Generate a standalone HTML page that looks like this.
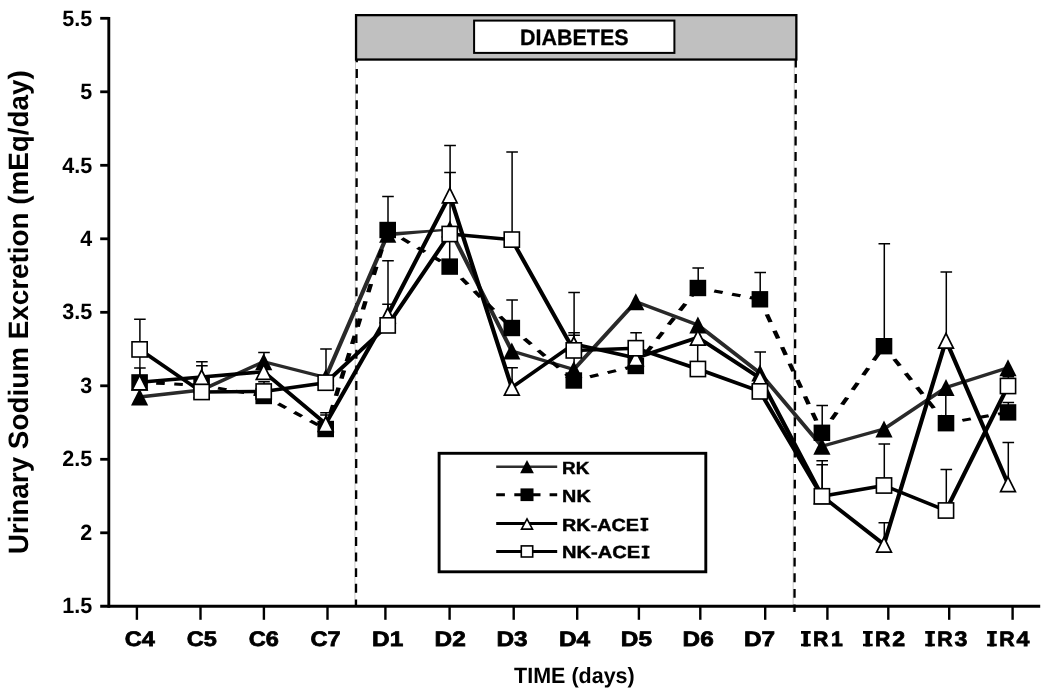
<!DOCTYPE html>
<html><head><meta charset="utf-8"><title>Urinary Sodium Excretion</title>
<style>html,body{margin:0;padding:0;background:#fff}svg{display:block;will-change:transform}text{font-family:"Liberation Sans",sans-serif;font-weight:bold;fill:#000;text-rendering:geometricPrecision}</style>
</head><body>
<svg width="1050" height="694" viewBox="0 0 1050 694">
<rect width="1050" height="694" fill="#fff"/>
<path d="M355.5 60L354.9 605" stroke="#c4c4c4" stroke-width="0.9" fill="none"/>
<path d="M794.3 60L793.1 612" stroke="#c4c4c4" stroke-width="0.9" fill="none"/>
<path d="M356.8 53.4L356.0 606" stroke="#000" stroke-width="2.3" stroke-dasharray="8.9 6.7" fill="none"/>
<path d="M795.8 58.5L794.5 612" stroke="#000" stroke-width="2.3" stroke-dasharray="8.9 6.7" fill="none"/>
<rect x="356.05" y="15.15" width="440.3" height="44.4" fill="#c0c0c0" stroke="#000" stroke-width="2.3"/>
<rect x="474.1" y="20.6" width="200.3" height="32.3" fill="#fff" stroke="#000" stroke-width="2"/>
<text x="574.3" y="44.7" font-size="22.2" text-anchor="middle" textLength="108.6" lengthAdjust="spacingAndGlyphs" stroke="#000" stroke-width="0.3">DIABETES</text>
<path d="M108.8 16.9V607.7" stroke="#000" stroke-width="2.9" fill="none"/>
<path d="M100.2 606.3H1040.2" stroke="#000" stroke-width="2.9" fill="none"/>
<path d="M100.2 18.3H108.7" stroke="#000" stroke-width="2.8" fill="none"/>
<path d="M100.2 91.8H108.7" stroke="#000" stroke-width="2.8" fill="none"/>
<path d="M100.2 165.3H108.7" stroke="#000" stroke-width="2.8" fill="none"/>
<path d="M100.2 238.8H108.7" stroke="#000" stroke-width="2.8" fill="none"/>
<path d="M100.2 312.3H108.7" stroke="#000" stroke-width="2.8" fill="none"/>
<path d="M100.2 385.8H108.7" stroke="#000" stroke-width="2.8" fill="none"/>
<path d="M100.2 459.3H108.7" stroke="#000" stroke-width="2.8" fill="none"/>
<path d="M100.2 532.8H108.7" stroke="#000" stroke-width="2.8" fill="none"/>
<path d="M136.9 606V619.8" stroke="#000" stroke-width="2.4" fill="none"/>
<path d="M200.5 606V619.8" stroke="#000" stroke-width="2.4" fill="none"/>
<path d="M263.9 606V619.8" stroke="#000" stroke-width="2.4" fill="none"/>
<path d="M327.5 606V619.8" stroke="#000" stroke-width="2.4" fill="none"/>
<path d="M385.4 606V619.8" stroke="#000" stroke-width="2.4" fill="none"/>
<path d="M449.6 606V619.8" stroke="#000" stroke-width="2.4" fill="none"/>
<path d="M513.7 606V619.8" stroke="#000" stroke-width="2.4" fill="none"/>
<path d="M577.2 606V619.8" stroke="#000" stroke-width="2.4" fill="none"/>
<path d="M638.9 606V619.8" stroke="#000" stroke-width="2.4" fill="none"/>
<path d="M700.3 606V619.8" stroke="#000" stroke-width="2.4" fill="none"/>
<path d="M765.2 606V619.8" stroke="#000" stroke-width="2.4" fill="none"/>
<path d="M827.4 606V619.8" stroke="#000" stroke-width="2.4" fill="none"/>
<path d="M888.3 606V619.8" stroke="#000" stroke-width="2.4" fill="none"/>
<path d="M949.2 606V619.8" stroke="#000" stroke-width="2.4" fill="none"/>
<path d="M1012.6 606V619.8" stroke="#000" stroke-width="2.4" fill="none"/>
<text x="92.3" y="25.8" font-size="22.2" text-anchor="end" textLength="30.0" lengthAdjust="spacingAndGlyphs">5.5</text>
<text x="92.3" y="99.2" font-size="22.2" text-anchor="end" textLength="11.95" lengthAdjust="spacingAndGlyphs">5</text>
<text x="92.3" y="172.6" font-size="22.2" text-anchor="end" textLength="30.0" lengthAdjust="spacingAndGlyphs">4.5</text>
<text x="92.3" y="246.0" font-size="22.2" text-anchor="end" textLength="11.95" lengthAdjust="spacingAndGlyphs">4</text>
<text x="92.3" y="319.4" font-size="22.2" text-anchor="end" textLength="30.0" lengthAdjust="spacingAndGlyphs">3.5</text>
<text x="92.3" y="392.8" font-size="22.2" text-anchor="end" textLength="11.95" lengthAdjust="spacingAndGlyphs">3</text>
<text x="92.3" y="466.2" font-size="22.2" text-anchor="end" textLength="30.0" lengthAdjust="spacingAndGlyphs">2.5</text>
<text x="92.3" y="539.6" font-size="22.2" text-anchor="end" textLength="11.95" lengthAdjust="spacingAndGlyphs">2</text>
<text x="92.3" y="613.0" font-size="22.2" text-anchor="end" textLength="30.0" lengthAdjust="spacingAndGlyphs">1.5</text>
<text x="139.8" y="646.3" text-anchor="middle" textLength="30.1" font-size="21.0" lengthAdjust="spacingAndGlyphs" stroke="#000" stroke-width="0.75">C4</text>
<text x="201.9" y="646.3" text-anchor="middle" textLength="30.1" font-size="21.0" lengthAdjust="spacingAndGlyphs" stroke="#000" stroke-width="0.75">C5</text>
<text x="263.7" y="646.3" text-anchor="middle" textLength="30.1" font-size="21.0" lengthAdjust="spacingAndGlyphs" stroke="#000" stroke-width="0.75">C6</text>
<text x="325.6" y="646.3" text-anchor="middle" textLength="30.1" font-size="21.0" lengthAdjust="spacingAndGlyphs" stroke="#000" stroke-width="0.75">C7</text>
<text x="387.7" y="646.3" text-anchor="middle" textLength="31.2" font-size="21.0" lengthAdjust="spacingAndGlyphs" stroke="#000" stroke-width="0.75">D1</text>
<text x="450.2" y="646.3" text-anchor="middle" textLength="31.2" font-size="21.0" lengthAdjust="spacingAndGlyphs" stroke="#000" stroke-width="0.75">D2</text>
<text x="512.0" y="646.3" text-anchor="middle" textLength="31.2" font-size="21.0" lengthAdjust="spacingAndGlyphs" stroke="#000" stroke-width="0.75">D3</text>
<text x="574.5" y="646.3" text-anchor="middle" textLength="31.2" font-size="21.0" lengthAdjust="spacingAndGlyphs" stroke="#000" stroke-width="0.75">D4</text>
<text x="636.4" y="646.3" text-anchor="middle" textLength="31.2" font-size="21.0" lengthAdjust="spacingAndGlyphs" stroke="#000" stroke-width="0.75">D5</text>
<text x="698.2" y="646.3" text-anchor="middle" textLength="31.2" font-size="21.0" lengthAdjust="spacingAndGlyphs" stroke="#000" stroke-width="0.75">D6</text>
<text x="759.6" y="646.3" text-anchor="middle" textLength="31.2" font-size="21.0" lengthAdjust="spacingAndGlyphs" stroke="#000" stroke-width="0.75">D7</text>
<text x="805.85" y="646.3" font-size="21.0" text-anchor="middle" textLength="7.0" lengthAdjust="spacingAndGlyphs" stroke="#000" stroke-width="0.75">I</text>
<path d="M801.00 631.10h9.7v2.6h-9.7zM801.00 643.70h9.7v2.6h-9.7z" fill="#000"/>
<text x="813.1" y="646.3" textLength="15.4" font-size="21.0" lengthAdjust="spacingAndGlyphs" stroke="#000" stroke-width="0.75">R</text>
<text x="836.8" y="646.3" text-anchor="middle" textLength="11.8" font-size="21.0" lengthAdjust="spacingAndGlyphs" stroke="#000" stroke-width="0.75">1</text>
<text x="867.85" y="646.3" font-size="21.0" text-anchor="middle" textLength="7.0" lengthAdjust="spacingAndGlyphs" stroke="#000" stroke-width="0.75">I</text>
<path d="M863.00 631.10h9.7v2.6h-9.7zM863.00 643.70h9.7v2.6h-9.7z" fill="#000"/>
<text x="875.1" y="646.3" textLength="15.4" font-size="21.0" lengthAdjust="spacingAndGlyphs" stroke="#000" stroke-width="0.75">R</text>
<text x="898.8" y="646.3" text-anchor="middle" textLength="12.9" font-size="21.0" lengthAdjust="spacingAndGlyphs" stroke="#000" stroke-width="0.75">2</text>
<text x="930.05" y="646.3" font-size="21.0" text-anchor="middle" textLength="7.0" lengthAdjust="spacingAndGlyphs" stroke="#000" stroke-width="0.75">I</text>
<path d="M925.20 631.10h9.7v2.6h-9.7zM925.20 643.70h9.7v2.6h-9.7z" fill="#000"/>
<text x="937.3" y="646.3" textLength="15.4" font-size="21.0" lengthAdjust="spacingAndGlyphs" stroke="#000" stroke-width="0.75">R</text>
<text x="961.0" y="646.3" text-anchor="middle" textLength="12.9" font-size="21.0" lengthAdjust="spacingAndGlyphs" stroke="#000" stroke-width="0.75">3</text>
<text x="991.95" y="646.3" font-size="21.0" text-anchor="middle" textLength="7.0" lengthAdjust="spacingAndGlyphs" stroke="#000" stroke-width="0.75">I</text>
<path d="M987.10 631.10h9.7v2.6h-9.7zM987.10 643.70h9.7v2.6h-9.7z" fill="#000"/>
<text x="999.2" y="646.3" textLength="15.4" font-size="21.0" lengthAdjust="spacingAndGlyphs" stroke="#000" stroke-width="0.75">R</text>
<text x="1022.9" y="646.3" text-anchor="middle" textLength="12.9" font-size="21.0" lengthAdjust="spacingAndGlyphs" stroke="#000" stroke-width="0.75">4</text>
<text x="574.4" y="682.9" font-size="22" text-anchor="middle" textLength="120.6" lengthAdjust="spacingAndGlyphs">TIME (days)</text>
<text transform="translate(28.3,312.3) rotate(-90)" font-size="28" text-anchor="middle" textLength="484" lengthAdjust="spacingAndGlyphs">Urinary Sodium Excretion (mEq/day)</text>
<g transform="scale(1.3,1)"><polyline points="107.38,397.0 155.10,390.0 202.82,361.7 250.53,377.5 298.25,234.3" fill="none" stroke="#292929" stroke-width="3.3" stroke-linejoin="round"/></g>
<g transform="scale(1.3,1)"><polyline points="345.96,229.0 393.68,351.0 441.39,369.5 489.11,301.7 536.82,325.0 584.54,373.0 632.25,446.3 679.97,429.0 727.68,387.5 775.40,367.7" fill="none" stroke="#292929" stroke-width="3.3" stroke-linejoin="round"/></g>
<path d="M387.7 232.4L449.8 228.5V230.6L387.7 236.4Z" fill="#292929"/>
<path d="M264.0 361.7V352.6M258.2 352.6H269.8" stroke="#000" stroke-width="1.5" fill="none"/>
<path d="M450.1 229.0V172.6M444.2 172.6H455.9" stroke="#000" stroke-width="1.5" fill="none"/>
<path d="M574.1 369.5V335.2M568.3 335.2H579.9" stroke="#000" stroke-width="1.5" fill="none"/>
<path d="M760.2 373.0V352.0M754.4 352.0H766.0" stroke="#000" stroke-width="1.5" fill="none"/>
<path d="M139.6 388.5L148.2 405.5H131.0Z" fill="#000"/>
<path d="M201.6 381.5L210.2 398.5H193.0Z" fill="#000"/>
<path d="M263.7 353.2L272.3 370.2H255.1Z" fill="#000"/>
<path d="M325.7 369.0L334.3 386.0H317.1Z" fill="#000"/>
<path d="M387.7 225.8L396.3 242.8H379.1Z" fill="#000"/>
<path d="M449.8 220.5L458.4 237.5H441.1Z" fill="#000"/>
<path d="M511.8 342.5L520.4 359.5H503.2Z" fill="#000"/>
<path d="M573.8 361.0L582.4 378.0H565.2Z" fill="#000"/>
<path d="M635.8 293.2L644.4 310.2H627.2Z" fill="#000"/>
<path d="M697.9 316.5L706.5 333.5H689.3Z" fill="#000"/>
<path d="M759.9 364.5L768.5 381.5H751.3Z" fill="#000"/>
<path d="M821.9 437.8L830.5 454.8H813.3Z" fill="#000"/>
<path d="M884.0 420.5L892.6 437.5H875.4Z" fill="#000"/>
<path d="M946.0 379.0L954.6 396.0H937.4Z" fill="#000"/>
<path d="M1008.0 359.2L1016.6 376.2H999.4Z" fill="#000"/>
<g transform="scale(1.5,1)" stroke="#000" stroke-width="3.0" fill="none">
<path d="M93.07 382.4L134.42 385.3" stroke-dasharray="5.74 6.34" stroke-dashoffset="1.00"/>
<path d="M134.42 385.3L175.77 396.0" stroke-dasharray="5.84 6.45" stroke-dashoffset="1.02"/>
<path d="M175.77 396.0L217.13 429.0" stroke-dasharray="6.48 7.15" stroke-dashoffset="1.13"/>
<path d="M217.13 429.0L258.48 230.0" stroke-dasharray="8.39 9.26" stroke-dashoffset="1.46"/>
<path d="M258.48 230.0L299.83 266.6" stroke-dasharray="6.59 7.28" stroke-dashoffset="1.15"/>
<path d="M299.83 266.6L341.19 328.0" stroke-dasharray="7.29 8.06" stroke-dashoffset="1.27"/>
<path d="M341.19 328.0L382.54 380.5" stroke-dasharray="7.07 7.81" stroke-dashoffset="1.23"/>
<path d="M382.54 380.5L423.89 366.0" stroke-dasharray="5.92 6.54" stroke-dashoffset="1.03"/>
<path d="M423.89 366.0L465.25 288.0" stroke-dasharray="7.62 8.42" stroke-dashoffset="1.33"/>
<path d="M465.25 288.0L506.60 299.3" stroke-dasharray="5.85 6.46" stroke-dashoffset="1.02"/>
<path d="M506.60 299.3L547.95 432.8" stroke-dasharray="8.16 9.02" stroke-dashoffset="1.42"/>
<path d="M547.95 432.8L589.31 346.2" stroke-dasharray="7.75 8.56" stroke-dashoffset="1.35"/>
<path d="M589.31 346.2L630.66 423.2" stroke-dasharray="7.60 8.40" stroke-dashoffset="1.33"/>
<path d="M630.66 423.2L672.01 412.4" stroke-dasharray="5.84 6.45" stroke-dashoffset="1.02"/>
</g>
<path d="M139.9 382.4V367.9M134.1 367.9H145.7" stroke="#000" stroke-width="1.5" fill="none"/>
<path d="M201.9 385.3V365.7M196.1 365.7H207.7" stroke="#000" stroke-width="1.5" fill="none"/>
<path d="M326.0 429.0V415.0M320.2 415.0H331.8" stroke="#000" stroke-width="1.5" fill="none"/>
<path d="M388.0 230.0V196.4M382.2 196.4H393.8" stroke="#000" stroke-width="1.5" fill="none"/>
<path d="M512.1 328.0V300.0M506.3 300.0H517.9" stroke="#000" stroke-width="1.5" fill="none"/>
<path d="M698.2 288.0V268.0M692.4 268.0H704.0" stroke="#000" stroke-width="1.5" fill="none"/>
<path d="M760.2 299.3V272.6M754.4 272.6H766.0" stroke="#000" stroke-width="1.5" fill="none"/>
<path d="M822.2 432.8V405.5M816.4 405.5H828.0" stroke="#000" stroke-width="1.5" fill="none"/>
<path d="M884.3 346.2V243.8M878.5 243.8H890.1" stroke="#000" stroke-width="1.5" fill="none"/>
<path d="M1008.3 412.4V402.5M1002.5 402.5H1014.1" stroke="#000" stroke-width="1.5" fill="none"/>
<rect x="131.3" y="374.2" width="16.6" height="16.4" fill="#000"/>
<rect x="193.3" y="377.1" width="16.6" height="16.4" fill="#000"/>
<rect x="255.4" y="387.8" width="16.6" height="16.4" fill="#000"/>
<rect x="317.4" y="420.8" width="16.6" height="16.4" fill="#000"/>
<rect x="379.4" y="221.8" width="16.6" height="16.4" fill="#000"/>
<rect x="441.4" y="258.4" width="16.6" height="16.4" fill="#000"/>
<rect x="503.5" y="319.8" width="16.6" height="16.4" fill="#000"/>
<rect x="565.5" y="372.3" width="16.6" height="16.4" fill="#000"/>
<rect x="627.5" y="357.8" width="16.6" height="16.4" fill="#000"/>
<rect x="689.6" y="279.8" width="16.6" height="16.4" fill="#000"/>
<rect x="751.6" y="291.1" width="16.6" height="16.4" fill="#000"/>
<rect x="813.6" y="424.6" width="16.6" height="16.4" fill="#000"/>
<rect x="875.7" y="338.0" width="16.6" height="16.4" fill="#000"/>
<rect x="937.7" y="415.0" width="16.6" height="16.4" fill="#000"/>
<rect x="999.7" y="404.2" width="16.6" height="16.4" fill="#000"/>
<path d="M139.9 350V380" stroke="#000" stroke-width="1.4" fill="none"/>
<g transform="scale(1.2,1)"><polyline points="116.33,382.2 168.03,377.0 219.72,371.7 271.41,423.8 323.10,315.0 374.79,195.2 426.48,387.5 478.18,344.0 529.87,358.0 581.56,337.5 633.25,378.0 684.94,496.0 736.63,544.4 788.33,340.4 840.02,483.9" fill="none" stroke="#000" stroke-width="3.55" stroke-linejoin="round"/></g>
<path d="M201.9 377.0V361.7M196.1 361.7H207.7" stroke="#000" stroke-width="1.5" fill="none"/>
<path d="M326.0 423.8V412.7M320.2 412.7H331.8" stroke="#000" stroke-width="1.5" fill="none"/>
<path d="M388.0 315.0V304.3M382.2 304.3H393.8" stroke="#000" stroke-width="1.5" fill="none"/>
<path d="M450.1 195.2V145.5M444.2 145.5H455.9" stroke="#000" stroke-width="1.5" fill="none"/>
<path d="M512.1 387.5V367.7M506.3 367.7H517.9" stroke="#000" stroke-width="1.5" fill="none"/>
<path d="M574.1 344.0V332.7M568.3 332.7H579.9" stroke="#000" stroke-width="1.5" fill="none"/>
<path d="M822.2 496.0V460.7M816.4 460.7H828.0" stroke="#000" stroke-width="1.5" fill="none"/>
<path d="M884.3 544.4V522.8M878.5 522.8H890.1" stroke="#000" stroke-width="1.5" fill="none"/>
<path d="M946.3 340.4V272.1M940.5 272.1H952.1" stroke="#000" stroke-width="1.5" fill="none"/>
<path d="M1008.3 483.9V442.6M1002.5 442.6H1014.1" stroke="#000" stroke-width="1.5" fill="none"/>
<path d="M139.9 349.4V319.3M134.1 319.3H145.7" stroke="#000" stroke-width="1.5" fill="none"/>
<path d="M264.0 391.5V381.8M258.2 381.8H269.8" stroke="#000" stroke-width="1.5" fill="none"/>
<path d="M326.0 382.7V348.9M320.2 348.9H331.8" stroke="#000" stroke-width="1.5" fill="none"/>
<path d="M388.0 325.4V260.8M382.2 260.8H393.8" stroke="#000" stroke-width="1.5" fill="none"/>
<path d="M512.1 239.6V152.0M506.3 152.0H517.9" stroke="#000" stroke-width="1.5" fill="none"/>
<path d="M574.1 350.4V292.6M568.3 292.6H579.9" stroke="#000" stroke-width="1.5" fill="none"/>
<path d="M636.1 348.2V332.7M630.3 332.7H641.9" stroke="#000" stroke-width="1.5" fill="none"/>
<path d="M822.2 496.3V464.7M816.4 464.7H828.0" stroke="#000" stroke-width="1.5" fill="none"/>
<path d="M884.3 485.5V443.9M878.5 443.9H890.1" stroke="#000" stroke-width="1.5" fill="none"/>
<path d="M946.3 510.5V469.4M940.5 469.4H952.1" stroke="#000" stroke-width="1.5" fill="none"/>
<path d="M1008.3 386.0V376.7M1002.5 376.7H1014.1" stroke="#000" stroke-width="1.5" fill="none"/>
<path d="M449.7 240V260M697.7 340V365M945.8 392V418" stroke="#000" stroke-width="1.5" fill="none"/>
<path d="M139.6 375.2L147.0 389.9H132.2Z" fill="#fff" stroke="#000" stroke-width="1.7" stroke-linejoin="miter"/>
<path d="M201.6 370.0L209.0 384.7H194.2Z" fill="#fff" stroke="#000" stroke-width="1.7" stroke-linejoin="miter"/>
<path d="M263.7 364.7L271.1 379.4H256.3Z" fill="#fff" stroke="#000" stroke-width="1.7" stroke-linejoin="miter"/>
<path d="M325.7 416.8L333.1 431.5H318.3Z" fill="#fff" stroke="#000" stroke-width="1.7" stroke-linejoin="miter"/>
<path d="M387.7 308.0L395.1 322.7H380.3Z" fill="#fff" stroke="#000" stroke-width="1.7" stroke-linejoin="miter"/>
<path d="M449.8 188.2L457.1 202.9H442.4Z" fill="#fff" stroke="#000" stroke-width="1.7" stroke-linejoin="miter"/>
<path d="M511.8 380.5L519.2 395.2H504.4Z" fill="#fff" stroke="#000" stroke-width="1.7" stroke-linejoin="miter"/>
<path d="M573.8 337.0L581.2 351.7H566.4Z" fill="#fff" stroke="#000" stroke-width="1.7" stroke-linejoin="miter"/>
<path d="M635.8 351.0L643.2 365.7H628.4Z" fill="#fff" stroke="#000" stroke-width="1.7" stroke-linejoin="miter"/>
<path d="M697.9 330.5L705.3 345.2H690.5Z" fill="#fff" stroke="#000" stroke-width="1.7" stroke-linejoin="miter"/>
<path d="M759.9 371.0L767.3 385.7H752.5Z" fill="#fff" stroke="#000" stroke-width="1.7" stroke-linejoin="miter"/>
<path d="M821.9 489.0L829.3 503.7H814.5Z" fill="#fff" stroke="#000" stroke-width="1.7" stroke-linejoin="miter"/>
<path d="M884.0 537.4L891.4 552.1H876.6Z" fill="#fff" stroke="#000" stroke-width="1.7" stroke-linejoin="miter"/>
<path d="M946.0 333.4L953.4 348.1H938.6Z" fill="#fff" stroke="#000" stroke-width="1.7" stroke-linejoin="miter"/>
<path d="M1008.0 476.9L1015.4 491.6H1000.6Z" fill="#fff" stroke="#000" stroke-width="1.7" stroke-linejoin="miter"/>
<g transform="scale(1.2,1)"><polyline points="116.33,349.4 168.03,392.0 219.72,391.5 271.41,382.7 323.10,325.4 374.79,234.0 426.48,239.6 478.18,350.4 529.87,348.2 581.56,369.0 633.25,391.4 684.94,496.3 736.63,485.5 788.33,510.5 840.02,386.0" fill="none" stroke="#000" stroke-width="3.55" stroke-linejoin="round"/></g>
<rect x="132.0" y="341.8" width="15.2" height="15.2" fill="#fff" stroke="#000" stroke-width="1.6"/>
<rect x="194.0" y="384.4" width="15.2" height="15.2" fill="#fff" stroke="#000" stroke-width="1.6"/>
<rect x="256.1" y="383.9" width="15.2" height="15.2" fill="#fff" stroke="#000" stroke-width="1.6"/>
<rect x="318.1" y="375.1" width="15.2" height="15.2" fill="#fff" stroke="#000" stroke-width="1.6"/>
<rect x="380.1" y="317.8" width="15.2" height="15.2" fill="#fff" stroke="#000" stroke-width="1.6"/>
<rect x="442.1" y="226.4" width="15.2" height="15.2" fill="#fff" stroke="#000" stroke-width="1.6"/>
<rect x="504.2" y="232.0" width="15.2" height="15.2" fill="#fff" stroke="#000" stroke-width="1.6"/>
<rect x="566.2" y="342.8" width="15.2" height="15.2" fill="#fff" stroke="#000" stroke-width="1.6"/>
<rect x="628.2" y="340.6" width="15.2" height="15.2" fill="#fff" stroke="#000" stroke-width="1.6"/>
<rect x="690.3" y="361.4" width="15.2" height="15.2" fill="#fff" stroke="#000" stroke-width="1.6"/>
<rect x="752.3" y="383.8" width="15.2" height="15.2" fill="#fff" stroke="#000" stroke-width="1.6"/>
<rect x="814.3" y="488.7" width="15.2" height="15.2" fill="#fff" stroke="#000" stroke-width="1.6"/>
<rect x="876.4" y="477.9" width="15.2" height="15.2" fill="#fff" stroke="#000" stroke-width="1.6"/>
<rect x="938.4" y="502.9" width="15.2" height="15.2" fill="#fff" stroke="#000" stroke-width="1.6"/>
<rect x="1000.4" y="378.4" width="15.2" height="15.2" fill="#fff" stroke="#000" stroke-width="1.6"/>
<rect x="439.1" y="453.3" width="266.7" height="118.5" fill="#fff" stroke="#000" stroke-width="2.9"/>
<path d="M496.2 466.8H557.2" stroke="#2e2e2e" stroke-width="2.6" fill="none"/>
<path d="M527.0 460.1L533.9 473.3H520.1Z" fill="#000"/>
<text x="562.1" y="473.8" textLength="27.3" font-size="17.6" lengthAdjust="spacingAndGlyphs" stroke="#000" stroke-width="0.45">RK</text>
<path d="M496.2 494.8H504.9M514.3 494.8H540.5M549.6 494.8H557.2" stroke="#000" stroke-width="3" fill="none"/>
<rect x="520.5" y="488.4" width="13" height="12.7" fill="#000"/>
<text x="562.1" y="501.8" textLength="28.6" font-size="17.6" lengthAdjust="spacingAndGlyphs" stroke="#000" stroke-width="0.45">NK</text>
<path d="M496.2 523.5H557.2" stroke="#000" stroke-width="3" fill="none"/>
<path d="M527.0 518.9L532.5 529.1H521.5Z" fill="#fff" stroke="#000" stroke-width="1.6"/>
<text x="562.1" y="530.5" textLength="76.9" font-size="17.6" lengthAdjust="spacingAndGlyphs" stroke="#000" stroke-width="0.45">RK-ACE</text>
<text x="644.40" y="530.5" font-size="17.6" text-anchor="middle" textLength="5.7" lengthAdjust="spacingAndGlyphs" stroke="#000" stroke-width="0.45">I</text>
<path d="M640.50 517.80h7.8v2.1h-7.8zM640.50 528.40h7.8v2.1h-7.8z" fill="#000"/>
<path d="M496.2 551.4H557.2" stroke="#000" stroke-width="3" fill="none"/>
<rect x="521.3" y="545.9" width="11.4" height="11.1" fill="#fff" stroke="#000" stroke-width="1.6"/>
<text x="562.1" y="558.4" textLength="78.1" font-size="17.6" lengthAdjust="spacingAndGlyphs" stroke="#000" stroke-width="0.45">NK-ACE</text>
<text x="645.60" y="558.4" font-size="17.6" text-anchor="middle" textLength="5.7" lengthAdjust="spacingAndGlyphs" stroke="#000" stroke-width="0.45">I</text>
<path d="M641.70 545.70h7.8v2.1h-7.8zM641.70 556.30h7.8v2.1h-7.8z" fill="#000"/>
</svg></body></html>
